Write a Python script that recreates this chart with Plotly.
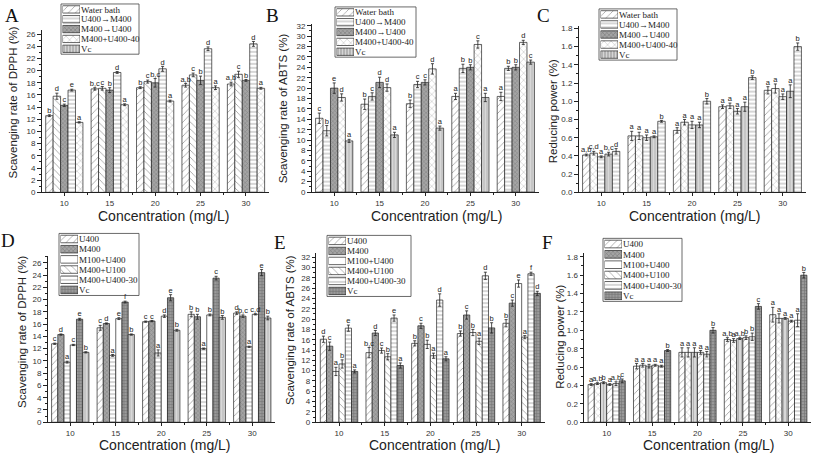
import plotly.graph_objects as go

W, H = 813, 461

concentrations = ["10", "15", "20", "25", "30"]
series_top = ["Water bath", "U400→M400", "M400→U400", "M400+U400-40", "Vc"]
series_bottom = ["U400", "M400", "M100+U400", "M400+U100", "M400+U400-30", "Vc"]

# ---- Panel A: DPPH (series x concentration)
A_vals = [[12.6, 17.0, 17.2, 17.6, 17.8],
          [15.8, 17.1, 18.2, 19.3, 19.4],
          [14.3, 16.8, 18.0, 18.4, 18.4],
          [16.8, 19.7, 20.3, 23.6, 24.4],
          [11.5, 14.4, 15.0, 17.2, 17.1]]
A_errs = [[0.15, 0.2, 0.15, 0.3, 0.3],
          [0.5, 0.3, 0.25, 0.3, 0.5],
          [0.2, 0.4, 0.7, 0.7, 0.15],
          [0.15, 0.15, 0.4, 0.3, 0.4],
          [0.1, 0.15, 0.15, 0.3, 0.15]]
A_lets = [["b", "b,c", "b", "a,b", "a,b"],
          ["d", "c", "c", "c", "c"],
          ["c", "b", "b,c", "b", "b"],
          ["e", "d", "d", "d", "d"],
          ["a", "a", "a", "a", "a"]]

# ---- Panel B: ABTS
B_vals = [[14.2, 16.9, 17.0, 18.4, 18.4],
          [11.8, 18.4, 20.7, 23.8, 23.8],
          [20.0, 21.1, 21.1, 24.0, 24.0],
          [18.2, 20.1, 23.7, 28.4, 28.8],
          [9.85, 11.0, 12.3, 18.2, 25.0]]
B_errs = [[1.0, 1.0, 0.7, 0.6, 0.8],
          [1.0, 0.7, 0.6, 0.8, 0.4],
          [1.0, 1.0, 0.5, 0.5, 0.5],
          [0.7, 0.7, 1.0, 0.7, 0.4],
          [0.3, 0.5, 0.4, 0.8, 0.4]]
B_lets = [["c", "b", "b", "a", "a"],
          ["b", "c", "c", "b", "b"],
          ["e", "d", "c", "b", "b"],
          ["d", "d", "d", "c", "d"],
          ["a", "a", "a", "a", "c"]]

# ---- Panel C: reducing power
C_vals = [[0.41, 0.62, 0.68, 0.94, 1.12],
          [0.43, 0.62, 0.77, 0.95, 1.14],
          [0.39, 0.60, 0.74, 0.89, 1.05],
          [0.42, 0.61, 0.74, 0.94, 1.11],
          [0.45, 0.78, 1.00, 1.26, 1.60]]
C_errs = [[0.01, 0.05, 0.03, 0.02, 0.04],
          [0.02, 0.04, 0.03, 0.03, 0.05],
          [0.01, 0.03, 0.04, 0.03, 0.03],
          [0.02, 0.01, 0.03, 0.05, 0.07],
          [0.03, 0.01, 0.03, 0.02, 0.04]]
C_lets = [["a,b", "a", "a", "a", "a"],
          ["c,d", "a", "a", "a", "a"],
          ["a", "a", "a", "a", "a"],
          ["b,c", "a", "a", "a", "a"],
          ["d", "b", "b", "b", "b"]]

# ---- Panel D: DPPH
D_vals = [[12.8, 15.4, 16.4, 17.6, 17.8],
          [14.3, 16.1, 16.5, 17.2, 17.3],
          [9.8, 10.9, 11.3, 12.0, 12.3],
          [12.6, 16.9, 17.3, 17.5, 17.6],
          [16.8, 19.6, 20.3, 23.5, 24.4],
          [11.4, 14.3, 15.0, 17.1, 17.0]]
D_errs = [[0.1, 0.4, 0.1, 0.4, 0.2],
          [0.1, 0.1, 0.1, 0.4, 0.2],
          [0.15, 0.15, 0.5, 0.1, 0.1],
          [0.1, 0.15, 0.2, 0.15, 0.1],
          [0.15, 0.15, 0.5, 0.3, 0.5],
          [0.1, 0.1, 0.15, 0.3, 0.3]]
D_lets = [["c", "c", "c", "b", "d"],
          ["d", "d", "c", "b", "b,c"],
          ["a", "a", "a", "a", "a"],
          ["c", "e", "d", "b", "c,d"],
          ["e", "f", "e", "c", "e"],
          ["b", "b", "b", "b", "b"]]

# ---- Panel E: ABTS
E_vals = [[16.1, 13.5, 15.3, 17.2, 19.2],
          [14.75, 17.3, 18.7, 20.8, 23.1],
          [9.85, 13.9, 15.1, 17.4, 26.9],
          [11.3, 12.7, 12.9, 15.7, 16.5],
          [18.25, 20.2, 23.7, 28.4, 28.8],
          [9.85, 11.0, 12.3, 18.3, 25.0]]
E_errs = [[0.6, 1.0, 0.5, 0.5, 0.7],
          [0.8, 0.5, 0.5, 0.8, 0.6],
          [0.8, 0.5, 0.8, 0.6, 0.7],
          [0.8, 0.6, 0.5, 0.6, 0.3],
          [0.6, 0.6, 1.2, 0.7, 0.3],
          [0.3, 0.5, 0.4, 1.0, 0.4]]
E_lets = [["d", "b,c", "b", "b", "b"],
          ["c", "d", "c", "c", "c"],
          ["a", "c", "b", "b", "e"],
          ["b", "b", "a", "a", "a"],
          ["e", "e", "d", "d", "f"],
          ["a", "a", "a", "b", "d"]]

# ---- Panel F: reducing power
F_vals = [[0.41, 0.61, 0.76, 0.90, 1.17],
          [0.42, 0.62, 0.76, 0.89, 1.13],
          [0.43, 0.61, 0.76, 0.91, 1.13],
          [0.41, 0.62, 0.76, 0.92, 1.10],
          [0.42, 0.61, 0.74, 0.93, 1.11],
          [0.45, 0.78, 1.00, 1.26, 1.60]]
F_errs = [[0.01, 0.03, 0.05, 0.02, 0.08],
          [0.01, 0.02, 0.05, 0.02, 0.05],
          [0.01, 0.02, 0.05, 0.01, 0.01],
          [0.01, 0.01, 0.02, 0.02, 0.01],
          [0.02, 0.01, 0.03, 0.04, 0.07],
          [0.02, 0.01, 0.03, 0.03, 0.03]]
F_lets = [["a", "a", "a", "a,b", "a"],
          ["a,b", "a", "a", "a", "a"],
          ["b", "a", "a", "a,b", "a"],
          ["a", "a", "a", "b", "a"],
          ["a,b", "a", "a", "b", "a"],
          ["c", "b", "b", "c", "b"]]

# ---- fill styles
STY = {
    "diag":  dict(shape="/", fg="#333333", bg="#ffffff", size=5, sol=0.16),
    "back":  dict(shape="\\", fg="#333333", bg="#ffffff", size=5, sol=0.16),
    "dark":  dict(shape="x", fg="#5a5a5a", bg="#a4a4a4", size=3, sol=0.3),
    "hline": dict(shape="-", fg="#444444", bg="#ffffff", size=4, sol=0.22),
    "cross": dict(shape="x", fg="#444444", bg="#ffffff", size=5, sol=0.14),
    "vline": dict(shape="|", fg="#8a8a8a", bg="#dcdcdc", size=3, sol=0.4),
    "blank": dict(shape="", fg="#ffffff", bg="#ffffff", size=5, sol=0.2),
    "grid":  dict(shape="+", fg="#4a4a4a", bg="#9a9a9a", size=3, sol=0.35),
}

panels = [
    dict(letter="A", vals=A_vals, errs=A_errs, lets=A_lets, names=series_top,
         bars=["diag", "back", "dark", "hline", "cross"],
         leg=["diag", "hline", "dark", "cross", "vline"],
         dx=(41.6, 268.7), dy=(28.3, 193.3), ytop=26.7, dtick=2, mtick=1, fmt="",
         ytitle="Scavenging rate of DPPH (%)", yt=(13, 102), xt=(164, 217),
         lp=(12, 14), box=(61, 139, 2, 53)),
    dict(letter="B", vals=B_vals, errs=B_errs, lets=B_lets, names=series_top,
         bars=["diag", "hline", "dark", "cross", "vline"],
         leg=["diag", "hline", "dark", "cross", "vline"],
         dx=(311.5, 538.5), dy=(22, 193), ytop=32.4, dtick=2, mtick=1, fmt="",
         ytitle="Scavenging rate of ABTS (%)", yt=(283, 108), xt=(437, 217),
         lp=(272, 14), box=(335, 416, 5, 56)),
    dict(letter="C", vals=C_vals, errs=C_errs, lets=C_lets, names=series_top,
         bars=["diag", "cross", "hline", "vline", "hline"],
         leg=["diag", "hline", "dark", "cross", "vline"],
         dx=(578.5, 805.5), dy=(24, 193.3), ytop=1.83, dtick=0.2, mtick=0.1, fmt=".1f",
         ytitle="Reducing power (%)", yt=(553, 111), xt=(695, 217),
         lp=(543, 14), box=(599, 677, 7, 59)),
    dict(letter="D", vals=D_vals, errs=D_errs, lets=D_lets, names=series_bottom,
         bars=["diag", "dark", "hline", "blank", "grid", "vline"],
         leg=["diag", "dark", "blank", "back", "hline", "grid"],
         dx=(47.5, 275), dy=(258, 426.7), ytop=27.1, dtick=2, mtick=1, fmt="",
         ytitle="Scavenging rate of DPPH (%)", yt=(22, 335), xt=(164.5, 450),
         lp=(8, 242), box=(59, 139, 235, 298)),
    dict(letter="E", vals=E_vals, errs=E_errs, lets=E_lets, names=series_bottom,
         bars=["diag", "dark", "blank", "back", "hline", "grid"],
         leg=["diag", "dark", "blank", "back", "hline", "grid"],
         dx=(316.2, 544.5), dy=(255, 426.7), ytop=32.8, dtick=2, mtick=1, fmt="",
         ytitle="Scavenging rate of ABTS (%)", yt=(290, 333), xt=(435, 450),
         lp=(280, 244), box=(327, 411, 237, 299)),
    dict(letter="F", vals=F_vals, errs=F_errs, lets=F_lets, names=series_bottom,
         bars=["diag", "cross", "vline", "diag", "hline", "grid"],
         leg=["diag", "dark", "blank", "back", "hline", "grid"],
         dx=(584, 811), dy=(255, 426.7), ytop=1.84, dtick=0.2, mtick=0.1, fmt=".1f",
         ytitle="Reducing power (%)", yt=(560, 340), xt=(709, 450),
         lp=(547, 244), box=(603, 682, 240, 304)),
]

SANS = "Liberation Sans, Arial, sans-serif"
SERIF = "Liberation Serif, Times New Roman, serif"
INK = "#222222"


def ax_id(i):
    return ("x" if i == 1 else f"x{i}"), ("y" if i == 1 else f"y{i}")


def ax_key(i):
    return ("xaxis" if i == 1 else f"xaxis{i}"), ("yaxis" if i == 1 else f"yaxis{i}")


def pattern(names):
    s = [STY[n] for n in names]
    return dict(shape=[d["shape"] for d in s], fgcolor=[d["fg"] for d in s],
                bgcolor=[d["bg"] for d in s], size=[d["size"] for d in s],
                solidity=[d["sol"] for d in s], fillmode="overlay")


def note(x, y, text, font, angle=0):
    return dict(x=x / W, y=1 - y / H, xref="paper", yref="paper", text=text,
                textangle=angle, showarrow=False, xanchor="center", yanchor="middle",
                font=font)


fig = go.Figure()
layout = {}
annotations = []
shapes = []
groups = list(range(len(concentrations)))
GROUP_W = 0.82

for k, p in enumerate(panels):
    i = k + 1
    xid, yid = ax_id(i)
    xk, yk = ax_key(i)
    n = len(p["vals"])
    w = GROUP_W / n
    for s in range(n):
        off = -GROUP_W / 2 + s * w
        st = STY[p["bars"][s]]
        fig.add_trace(go.Bar(
            x=groups, y=p["vals"][s], offset=off, width=w, xaxis=xid, yaxis=yid,
            showlegend=False, name=p["names"][s],
            marker=dict(color=st["bg"], line=dict(color=INK, width=0.7),
                        pattern=dict(shape=st["shape"], fgcolor=st["fg"], bgcolor=st["bg"],
                                     size=st["size"], solidity=st["sol"], fillmode="overlay")),
            error_y=dict(type="data", array=p["errs"][s], color=INK, thickness=0.8, width=1.5),
        ))
        fig.add_trace(go.Scatter(
            x=[g + off + w / 2 for g in groups],
            y=[v + e for v, e in zip(p["vals"][s], p["errs"][s])],
            text=p["lets"][s], mode="text", textposition="top center",
            textfont=dict(family=SANS, size=7.5, color=INK),
            xaxis=xid, yaxis=yid, showlegend=False, cliponaxis=False, hoverinfo="skip",
        ))
    layout[xk] = dict(
        domain=[p["dx"][0] / W, p["dx"][1] / W], anchor=yid, range=[-0.5, len(groups) - 0.5],
        tickmode="array", tickvals=groups, ticktext=concentrations,
        showline=True, linecolor=INK, linewidth=1, ticks="outside", ticklen=3, tickcolor=INK,
        minor=dict(tickvals=[g + 0.5 for g in groups[:-1]], ticks="outside", ticklen=2, tickcolor=INK),
        showgrid=False, zeroline=False, tickfont=dict(family=SANS, size=8, color="#333"),
    )
    layout[yk] = dict(
        domain=[1 - p["dy"][1] / H, 1 - p["dy"][0] / H], anchor=xid, range=[0, p["ytop"]],
        tick0=0, dtick=p["dtick"], tickformat=p["fmt"],
        showline=True, linecolor=INK, linewidth=1, ticks="outside", ticklen=3.5, tickcolor=INK,
        minor=dict(dtick=p["mtick"], ticks="outside", ticklen=2, tickcolor=INK),
        showgrid=False, zeroline=False, tickfont=dict(family=SANS, size=8, color="#333"),
    )
    annotations.append(note(p["yt"][0], p["yt"][1], p["ytitle"],
                            dict(family=SANS, size=11.5, color=INK), angle=-90))
    annotations.append(note(p["xt"][0], p["xt"][1], "Concentration (mg/L)",
                            dict(family=SANS, size=14, color=INK)))
    annotations.append(note(p["lp"][0], p["lp"][1], p["letter"],
                            dict(family=SERIF, size=19, color="#111")))

    # compact legend built on a small axis pair
    j = i + 6
    lxid, lyid = ax_id(j)
    lxk, lyk = ax_key(j)
    bx0, bx1, by0, by1 = p["box"]
    shapes.append(dict(type="rect", xref="paper", yref="paper",
                       x0=bx0 / W, x1=bx1 / W, y0=1 - by1 / H, y1=1 - by0 / H,
                       line=dict(color="#444", width=0.8), fillcolor="rgba(0,0,0,0)",
                       layer="above"))
    rows = list(range(n))
    leg_st = [STY[nm] for nm in p["leg"]]
    fig.add_trace(go.Bar(
        x=[1] * n, y=rows, orientation="h", width=0.74, base=0,
        xaxis=lxid, yaxis=lyid, showlegend=False, hoverinfo="skip",
        marker=dict(color=[d["bg"] for d in leg_st], line=dict(color=INK, width=0.7),
                    pattern=pattern(p["leg"])),
    ))
    layout[lxk] = dict(domain=[(bx0 + 1.5) / W, (bx0 + 19) / W], anchor=lyid, range=[0, 1],
                       visible=False, fixedrange=True)
    layout[lyk] = dict(domain=[1 - (by1 - 0.5) / H, 1 - (by0 + 0.5) / H], anchor=lxid,
                       range=[n - 0.5, -0.5], tickmode="array", tickvals=rows, ticktext=p["names"],
                       side="right", showline=False, ticks="", showgrid=False, zeroline=False,
                       tickfont=dict(family=SERIF, size=9, color=INK), fixedrange=True)

fig.update_layout(
    width=W, height=H, margin=dict(l=0, r=0, t=0, b=0),
    paper_bgcolor="white", plot_bgcolor="white", barmode="overlay",
    annotations=annotations, shapes=shapes, showlegend=False, **layout,
)

fig.write_html("out.html")
